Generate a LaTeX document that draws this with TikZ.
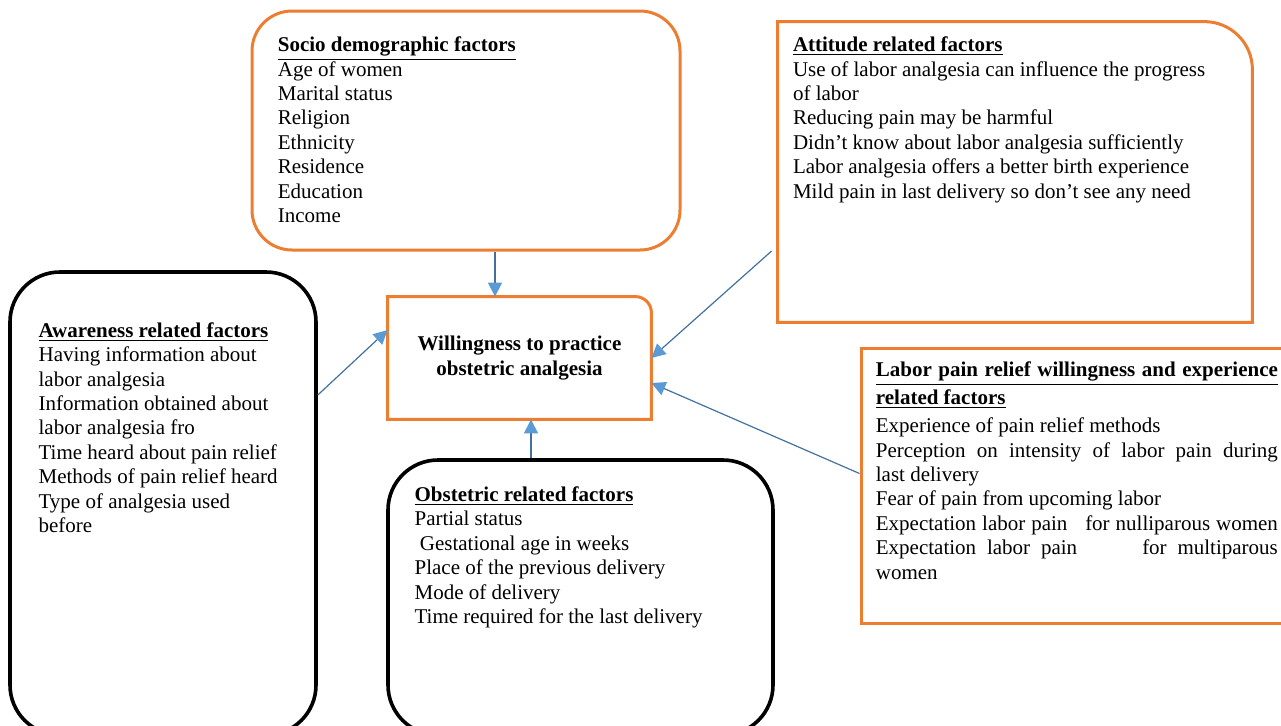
\documentclass[tikz,border=0pt]{standalone}
\usepackage{fontspec}
\setmainfont{Liberation Serif}
\usetikzlibrary{arrows.meta}
\usetikzlibrary{positioning}
\usetikzlibrary{fit}
\definecolor{boxorange}{HTML}{ED7D31}
\definecolor{linkblue}{HTML}{41719C}
\definecolor{tipblue}{HTML}{5B9BD5}
\newcommand{\hd}[1]{\underline{\textbf{#1}}}
\tikzset{
    orangebox/.style={
           draw=boxorange, line width=1.5pt,
           inner sep=0pt,
           },
    blackbox/.style={
           draw=black, line width=1.8pt,
           rounded corners=25pt,
           inner sep=0pt,
           },
    frameless/.style={
           %draw=black,
           inner sep=0pt,
           },
    boxtext/.style={
           align=left,
           inner sep=0pt,
           font=\fontsize{10.5}{12.2}\selectfont,
           },
    link/.style={
           draw=linkblue, line width=0.6pt,
           -{Triangle[length=7pt, width=7pt, color=tipblue]},
           },
}

\begin{document}
\begin{tikzpicture}[x=0.5pt, y=0.5pt]
	\clip (0,0) rectangle (1281,-725);

	%factor boxes
	\node[orangebox, rounded corners=20pt, fit={(252,-11) (680,-250)}] (socio) {};
	\node[frameless, fit={(778,-22) (1252,-322)}] (attitude) {};
	\node[blackbox, fit={(10,-272) (316,-735)}] (aware) {};
	\node[blackbox, fit={(388,-460) (773,-735)}] (obstet) {};
	\node[orangebox, fit={(861,-348) (1295,-623)}] (labor) {};
	\node[frameless, fit={(388,-297) (651,-419)}] (will) {};

	%frames with one round corner
	\draw[orangebox] (attitude.south west) -- (attitude.north west)
		-- ([xshift=-24pt]attitude.north east) arc[start angle=90, end angle=0, radius=24pt]
		-- (attitude.south east) -- cycle;
	\draw[orangebox] (will.south west) -- (will.north west)
		-- ([xshift=-8pt]will.north east) arc[start angle=90, end angle=0, radius=8pt]
		-- (will.south east) -- cycle;

	%TEXTS
	\node[align=center, font=\fontsize{10.5}{12.5}\selectfont\bfseries,
		below=-14.5pt of will.center] (willtxt) {Willingness to practice\\obstetric analgesia};
	\node[boxtext, below right=13.5pt and 13.5pt of socio.north west] (sociotxt) {\hd{Socio demographic factors}\\
		Age of women\\ Marital status\\ Religion\\ Ethnicity\\ Residence\\ Education\\ Income};
	\node[boxtext, below right=7.5pt and 7.5pt of attitude.north west] (attitudetxt) {\hd{Attitude related factors}\\
		Use of labor analgesia can influence the progress\\ of labor\\
		Reducing pain may be harmful\\
		Didn’t know about labor analgesia sufficiently\\
		Labor analgesia offers a better birth experience\\
		Mild pain in last delivery so don’t see any need};
	\node[boxtext, below right=26pt and 15pt of aware.north west] (awaretxt) {\hd{Awareness related factors}\\
		Having information about\\ labor analgesia\\
		Information obtained about\\ labor analgesia fro\\
		Time heard about pain relief\\
		Methods of pain relief heard\\
		Type of analgesia used\\ before};
	\node[boxtext, below right=14pt and 14pt of obstet.north west] (obstettxt) {\hd{Obstetric related factors}\\
		Partial status\\ \ Gestational age in weeks\\
		Place of the previous delivery\\
		Mode of delivery\\
		Time required for the last delivery};
	\node[boxtext, below right=7.5pt and 8pt of labor.north west] (labortxt) {\hd{\makebox[201pt][s]{Labor pain relief willingness and experience}}\\[1.8pt]
		\hd{related factors}\\[1.8pt]
		Experience of pain relief methods\\
		\makebox[201pt][s]{Perception on intensity of labor pain during}\\
		last delivery\\
		Fear of pain from upcoming labor\\
		\makebox[201pt][s]{Expectation labor pain \ \ for nulliparous women}\\
		\makebox[201pt][s]{Expectation labor pain \ \ \ \ \ for multiparous}\\
		women};

	%EDGES
	\draw[link] ([xshift=14.5pt]socio.south) -- ([xshift=-12.25pt]will.north);
	\draw[link] ([yshift=54.25pt]aware.east) -- ([yshift=14pt]will.west);
	\draw[link] ([xshift=-3pt, yshift=-39.5pt]attitude.west) -- (will.east);
	\draw[link] ([yshift=6pt]labor.west) -- ([yshift=-12.5pt]will.east);
	\draw[link] ([xshift=-24.75pt]obstet.north) -- ([xshift=5.75pt]will.south);
\end{tikzpicture}
\end{document}
